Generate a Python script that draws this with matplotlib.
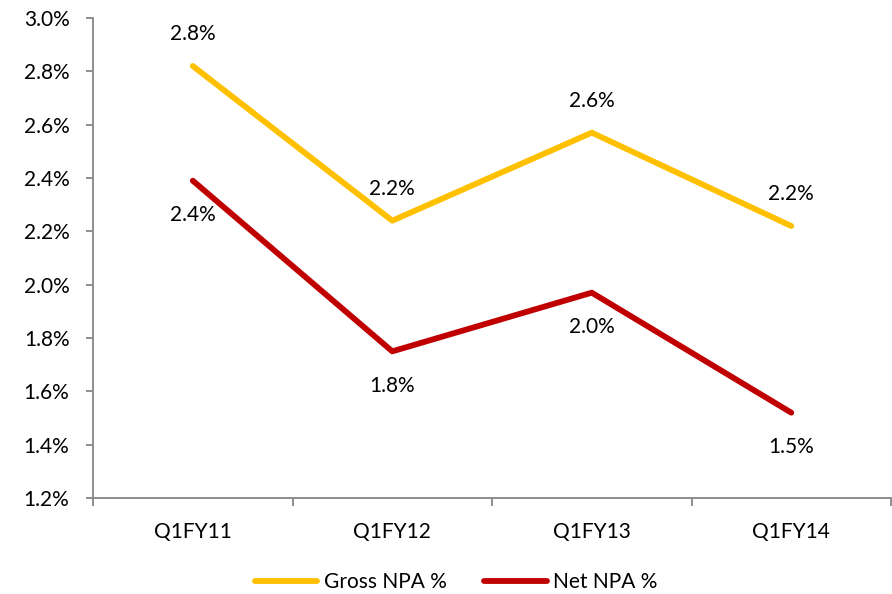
import matplotlib
matplotlib.use('Agg')
from matplotlib import pyplot as plt
from matplotlib.ticker import FuncFormatter

quarters = ['Q1FY11', 'Q1FY12', 'Q1FY13', 'Q1FY14']
gross_npa = [2.82, 2.24, 2.57, 2.22]
net_npa = [2.39, 1.75, 1.97, 1.52]

plt.rcParams['font.family'] = ['Lato', 'DejaVu Sans']
fig = plt.figure(figsize=(8.92, 5.94), dpi=100)
ax = fig.add_axes([0.1043, 0.1616, 0.8946, 0.8081])

x = list(range(len(quarters)))
ax.plot(x, gross_npa, color='#FFC000', linewidth=4.2, label='Gross NPA %', solid_capstyle='round')
ax.plot(x, net_npa, color='#C00000', linewidth=4.2, label='Net NPA %', solid_capstyle='round')

for i in x:
    ax.annotate('%.1f%%' % gross_npa[i], (i, gross_npa[i]), xytext=(0, 23), textcoords='offset points',
                ha='center', va='center', fontsize=15)
    ax.annotate('%.1f%%' % net_npa[i], (i, net_npa[i]), xytext=(0, -25), textcoords='offset points',
                ha='center', va='center', fontsize=15)

ax.set_xlim(-0.5, 3.5)
ax.set_ylim(1.2, 3.0)
ax.set_yticks([1.2 + 0.2 * k for k in range(10)])
ax.yaxis.set_major_formatter(FuncFormatter(lambda v, p: '%.1f%%' % v))
ax.set_xticks(x)
ax.set_xticklabels(quarters)
ax.set_xticks([-0.5, 0.5, 1.5, 2.5, 3.5], minor=True)

for s in ['top', 'right']:
    ax.spines[s].set_visible(False)
for s in ['left', 'bottom']:
    ax.spines[s].set_color('#868686')
    ax.spines[s].set_linewidth(1.3)
ax.tick_params(axis='y', colors='#868686', labelcolor='black', labelsize=15, length=5, width=1.3, pad=12)
ax.tick_params(axis='x', which='major', length=0, labelsize=15, pad=17)
ax.tick_params(axis='x', which='minor', colors='#868686', length=6, width=1.3)

ax.legend(loc='lower center', bbox_to_anchor=(0.455, -0.235), ncol=2, frameon=False, fontsize=15,
          handlelength=3.0, handletextpad=0.3, columnspacing=1.8)

fig.savefig('out.png', dpi=100)
